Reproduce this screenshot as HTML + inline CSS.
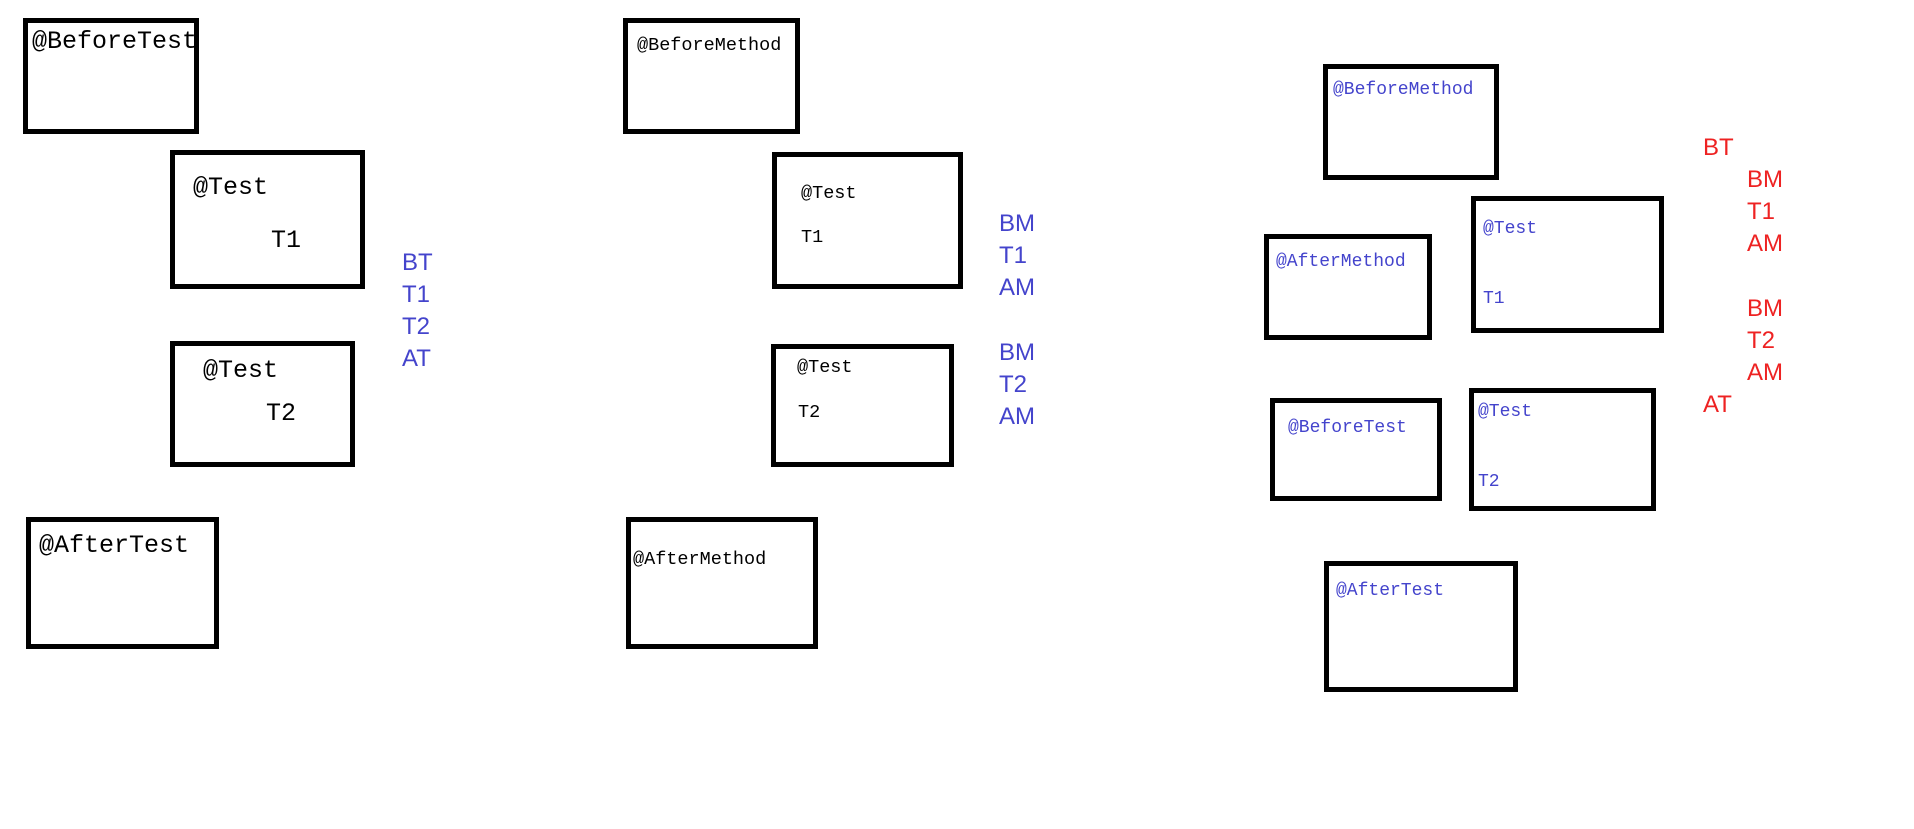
<!DOCTYPE html>
<html><head><meta charset="utf-8"><style>html,body{margin:0;padding:0;background:#fff;}svg{display:block}</style></head>
<body>
<svg width="1914" height="829" xmlns="http://www.w3.org/2000/svg">
<g fill="none" stroke="#000" stroke-width="5">
<rect x="25.5" y="20.5" width="171" height="111"/>
<rect x="172.5" y="152.5" width="190" height="134"/>
<rect x="172.5" y="343.5" width="180" height="121"/>
<rect x="28.5" y="519.5" width="188" height="127"/>
<rect x="625.5" y="20.5" width="172" height="111"/>
<rect x="774.5" y="154.5" width="186" height="132"/>
<rect x="773.5" y="346.5" width="178" height="118"/>
<rect x="628.5" y="519.5" width="187" height="127"/>
<rect x="1325.5" y="66.5" width="171" height="111"/>
<rect x="1266.5" y="236.5" width="163" height="101"/>
<rect x="1473.5" y="198.5" width="188" height="132"/>
<rect x="1272.5" y="400.5" width="167" height="98"/>
<rect x="1471.5" y="390.5" width="182" height="118"/>
<rect x="1326.5" y="563.5" width="189" height="126"/>
</g>
<g font-family="Liberation Mono, monospace" fill="#000" font-size="25">
<text x="32" y="48">@BeforeTest</text>
<text x="193" y="194">@Test</text>
<text x="271" y="247">T1</text>
<text x="203" y="377">@Test</text>
<text x="266" y="420">T2</text>
<text x="39" y="552">@AfterTest</text>
</g>
<g font-family="Liberation Mono, monospace" fill="#000" font-size="18.5">
<text x="637" y="50">@BeforeMethod</text>
<text x="801" y="198">@Test</text>
<text x="801" y="242">T1</text>
<text x="797" y="372">@Test</text>
<text x="798" y="417">T2</text>
<text x="633" y="564">@AfterMethod</text>
</g>
<g font-family="Liberation Mono, monospace" fill="#4444cc" font-size="18">
<text x="1333" y="94">@BeforeMethod</text>
<text x="1276" y="266">@AfterMethod</text>
<text x="1483" y="233">@Test</text>
<text x="1483" y="303">T1</text>
<text x="1288" y="432">@BeforeTest</text>
<text x="1478" y="416">@Test</text>
<text x="1478" y="486">T2</text>
<text x="1336" y="595">@AfterTest</text>
</g>
<g font-family="Liberation Sans, sans-serif" fill="#4444cc" font-size="24">
<text x="402" y="270">BT</text>
<text x="402" y="302">T1</text>
<text x="402" y="334">T2</text>
<text x="402" y="366">AT</text>
<text x="999" y="231">BM</text>
<text x="999" y="263">T1</text>
<text x="999" y="295">AM</text>
<text x="999" y="360">BM</text>
<text x="999" y="392">T2</text>
<text x="999" y="424">AM</text>
</g>
<g font-family="Liberation Sans, sans-serif" fill="#ee2222" font-size="24">
<text x="1703" y="155">BT</text>
<text x="1747" y="187">BM</text>
<text x="1747" y="219">T1</text>
<text x="1747" y="251">AM</text>
<text x="1747" y="316">BM</text>
<text x="1747" y="348">T2</text>
<text x="1747" y="380">AM</text>
<text x="1703" y="412">AT</text>
</g>
</svg>
</body></html>
